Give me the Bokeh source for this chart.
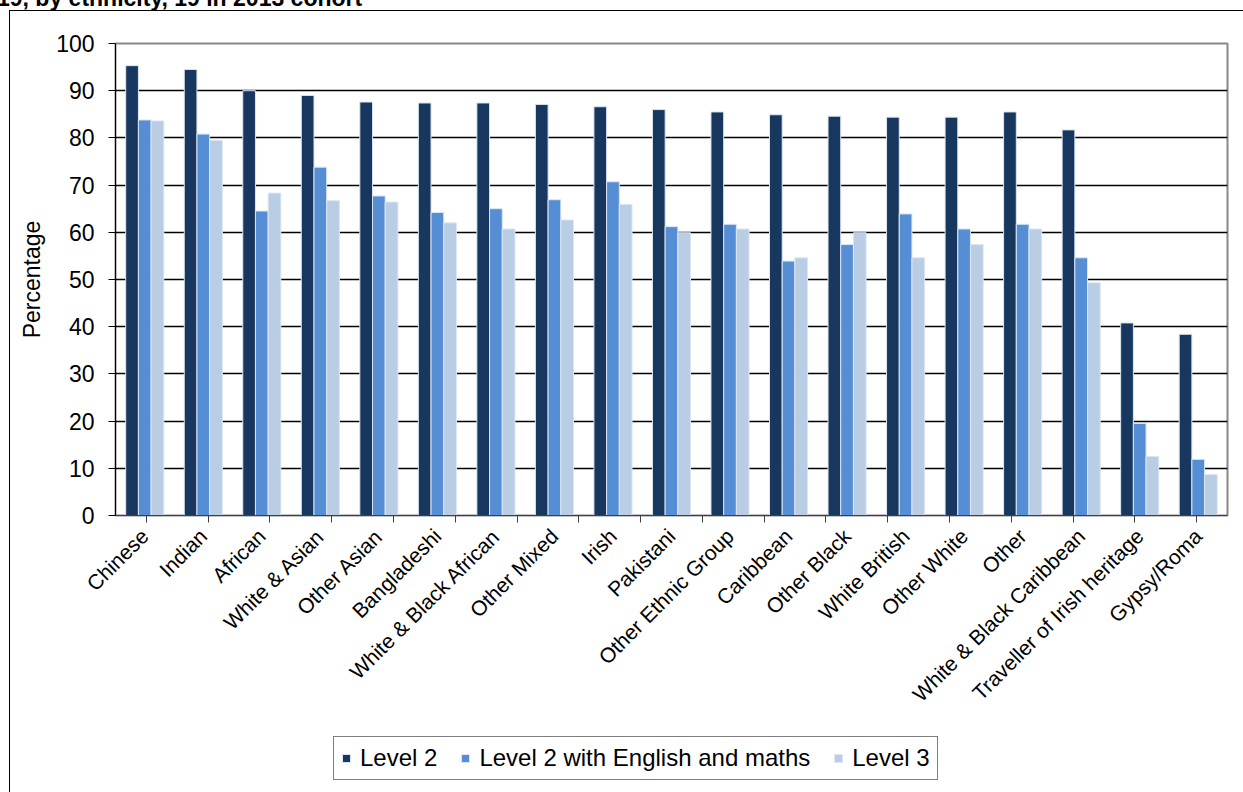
from math import pi
from bokeh.plotting import figure
from bokeh.models import (FactorRange, Range1d, LinearAxis, CategoricalAxis, FixedTicker,
                          Legend, LegendItem, Div, ColumnDataSource)
from bokeh.transform import dodge
from bokeh.layouts import column
from bokeh.embed import file_html
from bokeh.resources import INLINE

title_text = "19, by ethnicity, 19 in 2013 cohort"
categories = ["Chinese", "Indian", "African", "White & Asian", "Other Asian", "Bangladeshi",
              "White & Black African", "Other Mixed", "Irish", "Pakistani", "Other Ethnic Group",
              "Caribbean", "Other Black", "White British", "Other White", "Other",
              "White & Black Caribbean", "Traveller of Irish heritage", "Gypsy/Roma"]
level2 = [95.3, 94.5, 90.0, 89.0, 87.6, 87.4, 87.4, 87.1, 86.6, 86.0, 85.5,
          84.9, 84.6, 84.4, 84.4, 85.5, 81.7, 40.8, 38.4]
level2_em = [83.8, 80.8, 64.5, 73.8, 67.7, 64.2, 65.0, 66.9, 70.7, 61.2, 61.7,
             53.9, 57.4, 63.9, 60.7, 61.7, 54.6, 19.5, 11.9]
level3 = [83.6, 79.5, 68.3, 66.7, 66.4, 62.0, 60.7, 62.6, 65.9, 59.9, 60.7,
          54.6, 59.9, 54.6, 57.4, 60.7, 49.3, 12.5, 8.7]
series_names = ["Level 2", "Level 2 with English and maths", "Level 3"]
y_ticks = [0, 10, 20, 30, 40, 50, 60, 70, 80, 90, 100]

colors = ["#17375E", "#558ED5", "#B9CDE5"]
FONT = "Liberation Sans"
BAR_LINE = "#DCE6F2"

src = ColumnDataSource(dict(cat=categories, l2=level2, l2em=level2_em, l3=level3))

p = figure(x_range=FactorRange(*categories), y_range=Range1d(0, 100),
           frame_width=1111, frame_height=471, output_backend="svg", toolbar_location=None,
           x_axis_location=None, y_axis_location=None,
           min_border_left=105, min_border_right=17, min_border_top=32, min_border_bottom=216)
p.margin = (0, 0, 0, 9)
p.styles = {"border-left": "1px solid black", "border-top": "1px solid black"}

# an auxiliary factor range whose factor centres fall on the category boundaries
edge_factors = [f"edge{i}" for i in range(len(categories) + 1)]
p.extra_x_ranges = {"edges": FactorRange(*edge_factors, range_padding=-1.0,
                                         range_padding_units="absolute")}

bw = 0.217
fields = ["l2", "l2em", "l3"]
for off, field, col in zip([-bw, 0, bw], fields, colors):
    p.vbar(x=dodge("cat", off, range=p.x_range), top=field, width=bw, source=src,
           fill_color=col, line_color=BAR_LINE, line_width=1)

# axes
edge_axis = CategoricalAxis(x_range_name="edges",
                            major_label_text_font_size="0px", major_label_standoff=0,
                            major_tick_out=7, major_tick_in=0, minor_tick_line_color=None,
                            axis_line_color="#404040", major_tick_line_color="#404040")
edge_axis.major_label_text_color = None
cat_axis = CategoricalAxis(axis_line_color=None, major_tick_line_color=None, minor_tick_line_color=None,
                           major_label_orientation=pi / 4, major_label_standoff=4,
                           major_label_text_font=FONT, major_label_text_font_size="21px",
                           major_label_text_color="black")
p.add_layout(edge_axis, "below")
p.add_layout(cat_axis, "below")

yaxis = LinearAxis(ticker=FixedTicker(ticks=y_ticks), major_tick_out=7, major_tick_in=0,
                   minor_tick_line_color=None, axis_line_color="black", major_tick_line_color="black",
                   major_label_text_font=FONT, major_label_text_font_size="23px",
                   major_label_text_color="black", major_label_standoff=14,
                   axis_label="Percentage", axis_label_text_font=FONT,
                   axis_label_text_font_size="23px", axis_label_text_font_style="normal",
                   axis_label_standoff=8, axis_label_text_color="black")
p.add_layout(yaxis, "left")

p.ygrid.ticker = FixedTicker(ticks=y_ticks[1:-1])
p.ygrid.grid_line_color = "black"
p.ygrid.grid_line_width = 1.3
p.xgrid.grid_line_color = None
p.outline_line_color = "#888888"
p.outline_line_width = 2

# legend strip underneath the chart; its swatch renderers share the bar styles and are not drawn
lf = figure(x_range=Range1d(0, 1), y_range=Range1d(0, 1), width=1233, height=62,
            output_backend="svg", toolbar_location=None, x_axis_location=None,
            y_axis_location=None, min_border=0, min_border_left=0, min_border_right=0,
            min_border_top=0, min_border_bottom=0)
lf.margin = (0, 0, 0, 9)
lf.styles = {"border-left": "1px solid black"}
lf.outline_line_color = None
lf.xgrid.visible = False
lf.ygrid.visible = False
swatches = []
for field, col in zip(fields, colors):
    swatches.append(lf.vbar(x=0.5, top=field, width=0.1, source=src, fill_color=col,
                            line_color=BAR_LINE, visible=False))

legend = Legend(items=[LegendItem(label=n, renderers=[r]) for n, r in zip(series_names, swatches)],
                orientation="horizontal", location=(218, 12),
                label_text_font=FONT, label_text_font_size="24px", label_text_color="black",
                glyph_width=10, glyph_height=10, label_standoff=9, spacing=23,
                padding=7, margin=0, border_line_color="black", border_line_width=1.5,
                label_height=24, inactive_fill_alpha=0)
lf.add_layout(legend, "center")

title = Div(text=f'<div style="position:relative; top:-15px; left:-3px; white-space:nowrap; '
                 f'font: bold 23px \'{FONT}\'; color:black">{title_text}</div>',
            width=1243, height=10, margin=0, styles={"overflow": "hidden"})

layout = column(title, p, lf, spacing=0, margin=0)

with open("out.html", "w") as f:
    f.write(file_html(layout, INLINE))
